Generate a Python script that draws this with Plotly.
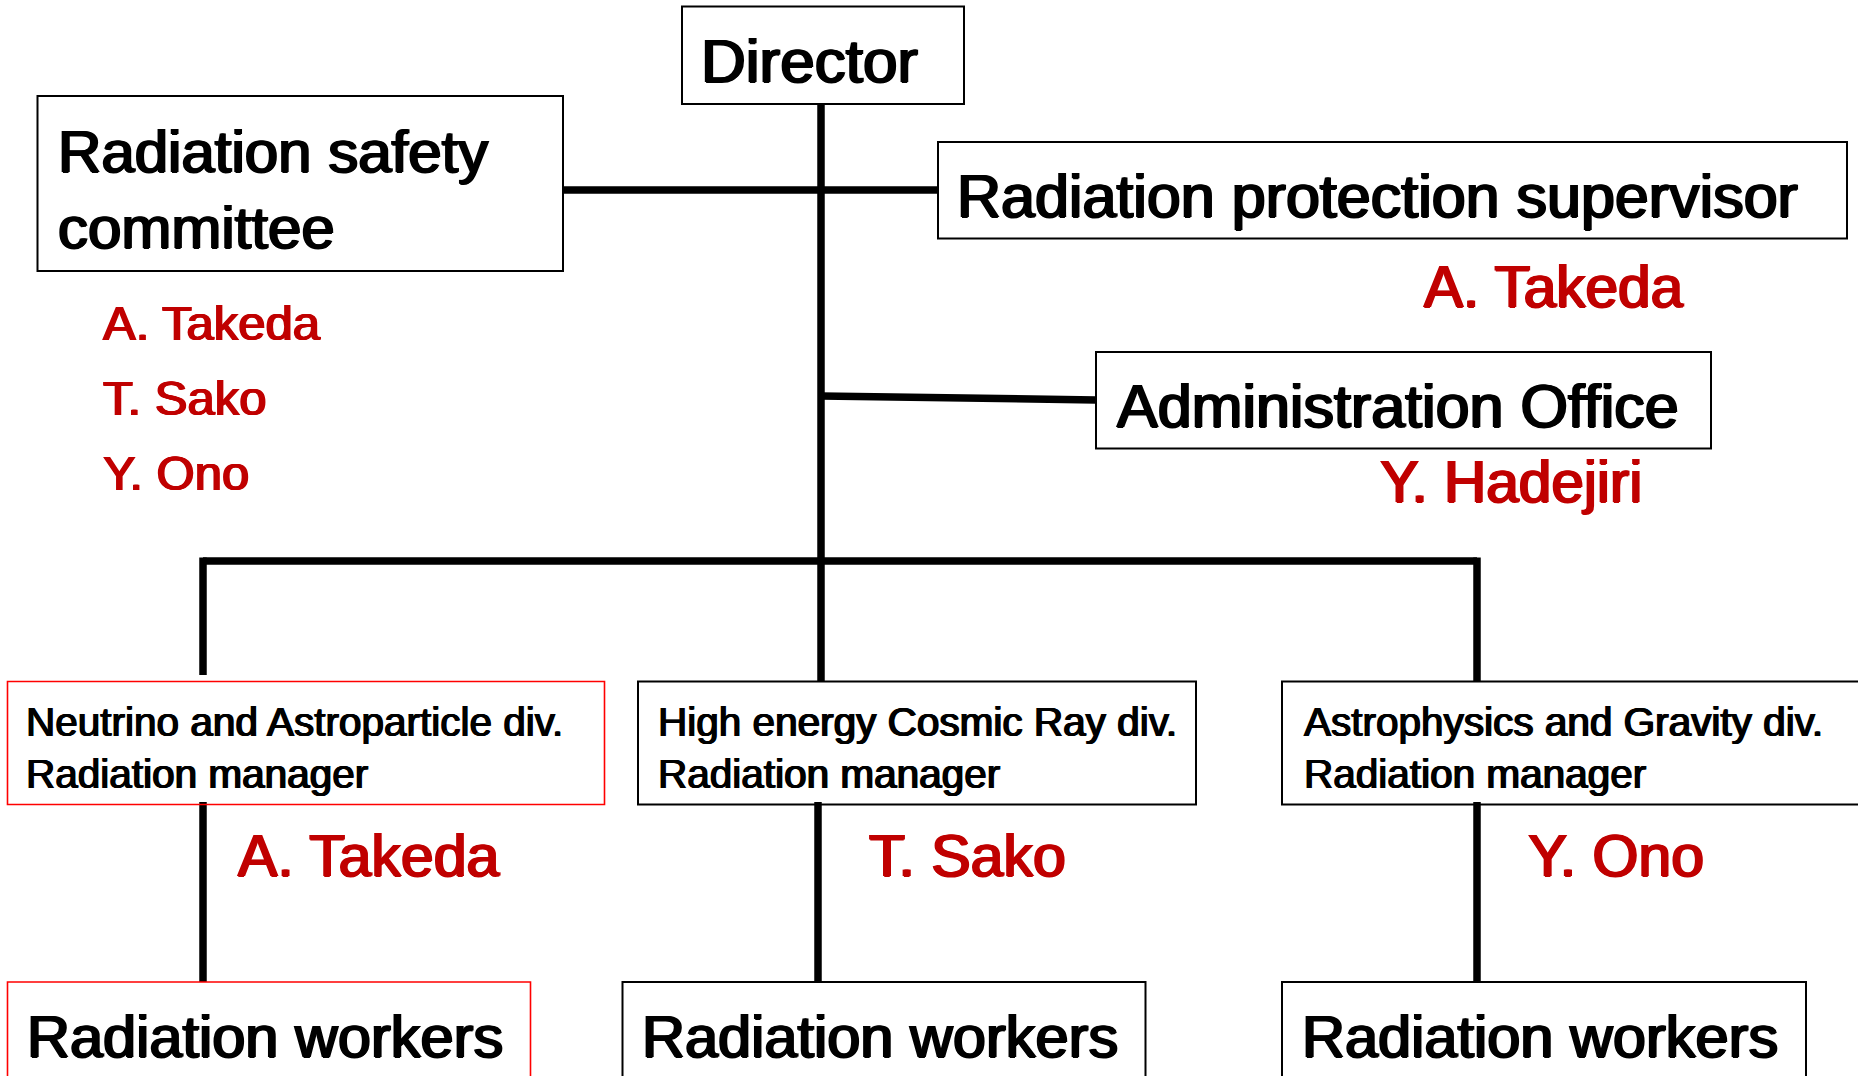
import plotly.graph_objects as go

# ---------------- data (text content) ----------------
director_label = "Director"
committee_label = ["Radiation safety", "committee"]
committee_members = ["A. Takeda", "T. Sako", "Y. Ono"]
supervisor_label = "Radiation protection supervisor"
supervisor_name = "A. Takeda"
admin_label = "Administration Office"
admin_name = "Y. Hadejiri"
divisions = ["Neutrino and Astroparticle div.",
             "High energy Cosmic Ray div.",
             "Astrophysics and Gravity div."]
manager_role = "Radiation manager"
division_managers = ["A. Takeda", "T. Sako", "Y. Ono"]
workers_label = "Radiation workers"
highlighted = [True, False, False]   # first division drawn with red frame

# ---------------- layout geometry (pixels) ----------------
W, H = 1858, 1076
BLACK = "#000000"
RED_NAME = "#C00000"
RED_FRAME = "#FF0000"
FONT = "Liberation Sans, Arial, sans-serif"

div_boxes_x = [(7.5, 604.5), (638, 1196), (1282, 1872)]
div_text_x = [23.5, 656, 1302]
worker_boxes_x = [(7.5, 530.5), (622.5, 1145.5), (1282, 1806)]
worker_text_x = [24.5, 640, 1300]
manager_name_x = [236, 867, 1526]
drop_x = [203, 818, 1477]

shapes = []
annotations = []


def rect(x0, y0, x1, y1, color=BLACK, width=2):
    shapes.append(dict(type="rect", xref="x", yref="y", x0=x0, y0=y0, x1=x1, y1=y1,
                       line=dict(color=color, width=width), fillcolor="rgba(0,0,0,0)",
                       layer="above"))


def line(x0, y0, x1, y1, width=7.5):
    shapes.append(dict(type="line", xref="x", yref="y", x0=x0, y0=y0, x1=x1, y1=y1,
                       line=dict(color=BLACK, width=width), layer="below"))


def text(x, y, s, size, color=BLACK):
    k = max(0.5, size / 50.0)
    shadow = f"{k:.2f}px 0 0 {color}, {-k:.2f}px 0 0 {color}, 0 {k/2:.2f}px 0 {color}"
    annotations.append(dict(x=x, y=y, xref="x", yref="y", text=s, showarrow=False,
                            xanchor="left", yanchor="middle",
                            font=dict(family=FONT, size=size, color=color, shadow=shadow)))


# connectors
line(821, 104, 821, 681)            # trunk
line(563, 190, 938, 190)            # committee - supervisor
line(821, 396, 1096, 400)           # admin
line(203, 561, 1477, 561)           # bottom bus
line(203, 557.5, 203, 675)
line(1477, 557.5, 1477, 681)
for dx in drop_x:
    line(dx, 802, dx, 982)

# top boxes
rect(682, 6.5, 964, 104)
text(699, 60, director_label, 62)

rect(37.5, 96, 563, 271)
text(55.5, 151, committee_label[0], 60)
text(55.5, 227, committee_label[1], 60)
for i, m in enumerate(committee_members):
    text(101, 323 + 75 * i, m, 49, RED_NAME)

rect(938, 142, 1847, 238.5)
text(955, 196, supervisor_label, 61)
text(1422, 286, supervisor_name, 58.5, RED_NAME)

rect(1096, 352, 1711, 448.5)
text(1115, 406, admin_label, 61)
text(1378, 481, admin_name, 58.5, RED_NAME)

# divisions
for i in range(3):
    c = RED_FRAME if highlighted[i] else BLACK
    w = 1.6 if highlighted[i] else 2
    x0, x1 = div_boxes_x[i]
    rect(x0, 681.5, x1, 804.5, c, w)
    text(div_text_x[i], 722, divisions[i], 40.5)
    text(div_text_x[i], 774, manager_role, 40.5)
    text(manager_name_x[i], 856, division_managers[i], 59, RED_NAME)
    wx0, wx1 = worker_boxes_x[i]
    rect(wx0, 982, wx1, 1095, c, w)
    text(worker_text_x[i], 1036.5, workers_label, 59.5)

fig = go.Figure()
fig.add_trace(go.Scatter(x=[0, W], y=[0, H], mode="markers",
                         marker=dict(opacity=0), hoverinfo="skip", showlegend=False))
fig.update_layout(
    width=W, height=H,
    margin=dict(l=0, r=0, t=0, b=0),
    paper_bgcolor="white", plot_bgcolor="white",
    xaxis=dict(range=[0, W], visible=False, fixedrange=True),
    yaxis=dict(range=[H, 0], visible=False, fixedrange=True),
    shapes=shapes, annotations=annotations,
    showlegend=False,
)
fig.write_html("out.html", config={"displayModeBar": False},
               post_script="document.body.style.margin='0';document.body.style.overflow='hidden';")
